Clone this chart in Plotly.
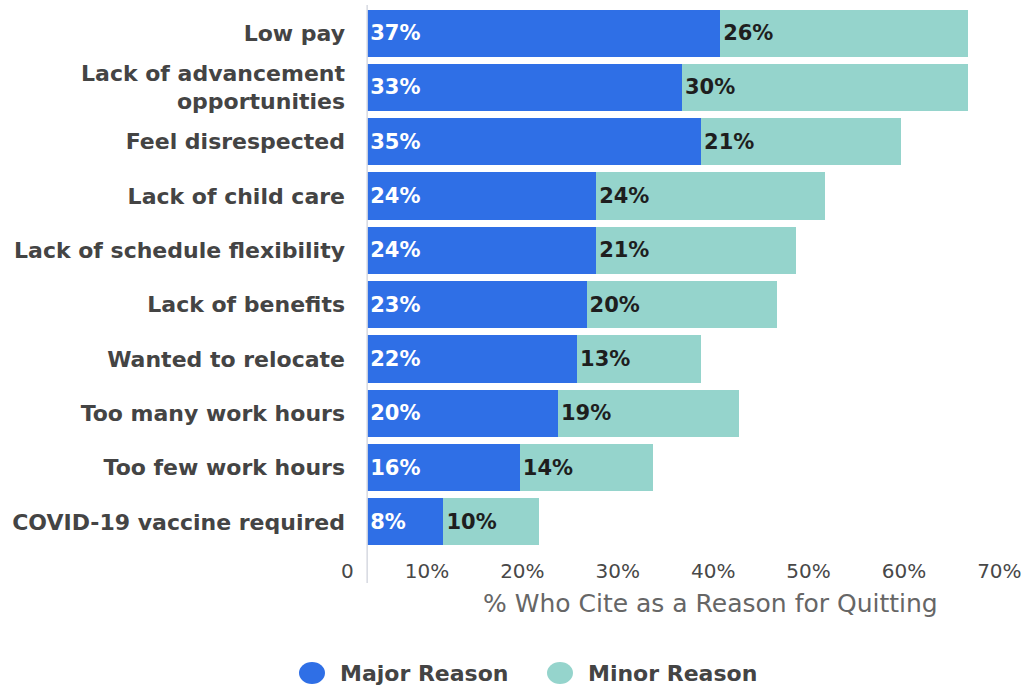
import plotly.graph_objects as go

categories = [
    "Low pay",
    "Lack of advancement<br>opportunities",
    "Feel disrespected",
    "Lack of child care",
    "Lack of schedule flexibility",
    "Lack of benefits",
    "Wanted to relocate",
    "Too many work hours",
    "Too few work hours",
    "COVID-19 vaccine required",
]
major = [37, 33, 35, 24, 24, 23, 22, 20, 16, 8]
minor = [26, 30, 21, 24, 21, 20, 13, 19, 14, 10]
series_names = ["Major Reason", "Minor Reason"]
series_colors = ["#2f6fe6", "#95d4cc"]
label_colors = ["#ffffff", "#1e1e1e"]
tick_values = [0, 10, 20, 30, 40, 50, 60, 70]
tick_text = ["0", "10%", "20%", "30%", "40%", "50%", "60%", "70%"]
x_title = "% Who Cite as a Reason for Quitting"

W, H = 1025, 689
L, R, T, B = 329, 2, 6, 140
PX_PER_UNIT = 9.54
x_min = -4.0
x_max = x_min + (W - L - R) / PX_PER_UNIT
label_shift = -1.4  # tick labels sit to the left of their value

FONT = "'DejaVu Sans', Verdana, sans-serif"

fig = go.Figure()
for name, vals, col, lcol in zip(series_names, [major, minor], series_colors, label_colors):
    fig.add_trace(go.Bar(
        y=categories, x=vals, name=name, orientation="h",
        marker=dict(color=col, line=dict(width=0)),
        text=[f"{v}%" for v in vals],
        textposition="inside", insidetextanchor="start",
        textfont=dict(family=FONT, size=21, color=lcol, weight="bold"),
        constraintext="none", cliponaxis=False,
        showlegend=False, hoverinfo="skip",
    ))

fig.update_layout(
    width=W, height=H,
    margin=dict(l=L, r=R, t=T, b=B, pad=0),
    barmode="stack", bargap=0.13,
    plot_bgcolor="white", paper_bgcolor="white",
    font=dict(family=FONT),
    uniformtext=dict(mode=False),
)
fig.update_yaxes(
    categoryorder="array", categoryarray=categories, autorange="reversed",
    showgrid=False, zeroline=False, showline=False, ticks="",
    tickfont=dict(family=FONT, size=22, color="#444444", weight="bold"),
    ticklabelstandoff=-17,
)
fig.update_xaxes(
    range=[x_min, x_max], showgrid=False, zeroline=False, showline=False, ticks="",
    tickvals=[v + label_shift for v in tick_values], ticktext=tick_text,
    ticklabelposition="outside left",
    tickfont=dict(family=FONT, size=20, color="#484848", weight=500),
    ticklabelstandoff=8,
)

# axis baseline at zero
fig.add_shape(type="line", xref="x", yref="paper", x0=0, x1=0,
              y0=(T + (H - T - B) - 583) / (H - T - B), y1=1.002,
              line=dict(color="#d6d9e0", width=1.5))

plot_w = W - L - R
plot_h = H - T - B
def px_to_paper_x(px):
    return (px - L) / plot_w
def px_to_paper_y(py):
    return (T + plot_h - py) / plot_h

# x-axis title
fig.add_annotation(text=x_title, xref="paper", yref="paper",
                   x=px_to_paper_x(710), y=px_to_paper_y(603),
                   showarrow=False, xanchor="center", yanchor="middle",
                   font=dict(family=FONT, size=25, color="#666666"))

# custom legend with large circles
legend_x = [312, 560]
for name, col, cx in zip(series_names, series_colors, legend_x):
    fig.add_shape(type="circle", xref="paper", yref="paper",
                  xsizemode="pixel", ysizemode="pixel",
                  xanchor=px_to_paper_x(cx), yanchor=px_to_paper_y(673),
                  x0=-13, x1=13, y0=-11, y1=11,
                  fillcolor=col, line=dict(width=0))
    fig.add_annotation(text=name, xref="paper", yref="paper",
                       x=px_to_paper_x(cx + 26), y=px_to_paper_y(673),
                       showarrow=False, xanchor="left", yanchor="middle",
                       font=dict(family=FONT, size=22, color="#444444", weight="bold"))

fig.write_html("out.html")
